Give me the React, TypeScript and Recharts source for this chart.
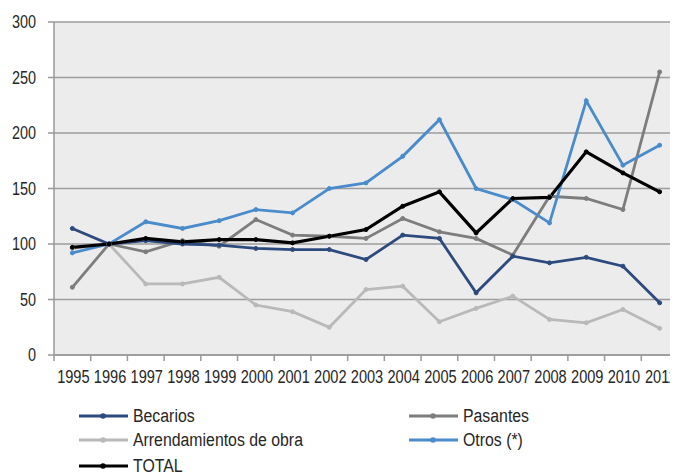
import React from "react";
import { LineChart, Line, XAxis, YAxis, CartesianGrid } from "recharts";

const years = [1995, 1996, 1997, 1998, 1999, 2000, 2001, 2002, 2003, 2004, 2005, 2006, 2007, 2008, 2009, 2010, 2011];
const becarios = [114, 100, 103, 100, 99, 96, 95, 95, 86, 108, 105, 56, 89, 83, 88, 80, 47];
const pasantes = [61, 100, 93, 103, 98, 122, 108, 107, 105, 123, 111, 105, 90, 143, 141, 131, 255];
const arrendamientos = [96, 100, 64, 64, 70, 45, 39, 25, 59, 62, 30, 42, 53, 32, 29, 41, 24];
const otros = [92, 100, 120, 114, 121, 131, 128, 150, 155, 179, 212, 150, 140, 119, 229, 171, 189];
const total = [97, 100, 105, 102, 104, 104, 101, 107, 113, 134, 147, 110, 141, 142, 183, 164, 147];
const yTicks = [0, 50, 100, 150, 200, 250, 300];

const data = years.map((y, i) => ({
  year: y,
  becarios: becarios[i],
  pasantes: pasantes[i],
  arrendamientos: arrendamientos[i],
  otros: otros[i],
  total: total[i],
}));

const FONT = "'Liberation Sans', Arial, sans-serif";
const W = 670;
const H = 466;
const M = { top: 14, right: 0, left: 0, bottom: 89 };
const Y_W = 46;
const PLOT_W = W - Y_W - M.right;
const STEP = PLOT_W / years.length;
const AXIS_Y = M.top + 333;
const TXT = "#262626";

const series = [
  { key: "arrendamientos", name: "Arrendamientos de obra", color: "#b9b9b9", w: 2.8 },
  { key: "pasantes", name: "Pasantes", color: "#7d7d7d", w: 2.8 },
  { key: "becarios", name: "Becarios", color: "#2d4a7e", w: 2.8 },
  { key: "otros", name: "Otros (*)", color: "#4a8ccb", w: 2.8 },
  { key: "total", name: "TOTAL", color: "#000000", w: 3.2 },
];

const legendLayout = [
  { key: "becarios", x: 70, y: 408 },
  { key: "pasantes", x: 400, y: 408 },
  { key: "arrendamientos", x: 70, y: 432 },
  { key: "otros", x: 400, y: 432 },
  { key: "total", x: 70, y: 458 },
];

const XTick = (props: any) => {
  const { x, payload } = props;
  return (
    <g>
      <line x1={x - STEP / 2} x2={x - STEP / 2} y1={AXIS_Y} y2={AXIS_Y + 6} stroke="#999" strokeWidth={1.5} />
      <text
        transform={`translate(${x + 1}, ${AXIS_Y + 28}) scale(0.81, 1)`}
        x={0}
        y={0}
        textAnchor="middle"
        fontSize={18}
        fill={TXT}
        fontFamily={FONT}
      >
        {payload.value}
      </text>
    </g>
  );
};

const YTick = (props: any) => {
  const { x, y, payload } = props;
  return (
    <text
      transform={`translate(${x}, ${y}) scale(0.78, 1)`}
      x={0}
      y={0}
      dy="0.35em"
      textAnchor="end"
      fontSize={18.5}
      fill={TXT}
      fontFamily={FONT}
    >
      {payload.value}
    </text>
  );
};

const ChartLegend = () => (
  <div style={{ position: "absolute", left: 0, top: 0, width: W, height: H, pointerEvents: "none" }}>
    {legendLayout.map((l) => {
      const s = series.find((q) => q.key === l.key)!;
      return (
        <div key={l.key} style={{ position: "absolute", left: l.x, top: l.y - 10, height: 20, display: "flex", alignItems: "center" }}>
          <svg width={52} height={20} style={{ display: "block" }}>
            <line x1={1} x2={50} y1={10} y2={10} stroke={s.color} strokeWidth={3} />
            <circle cx={25} cy={10} r={2.8} fill={s.color} />
          </svg>
          <span
            style={{
              fontFamily: FONT,
              fontSize: 18,
              color: TXT,
              marginLeft: 3,
              whiteSpace: "nowrap",
              display: "inline-block",
              transform: "scaleX(0.88)",
              transformOrigin: "left center",
            }}
          >
            {s.name}
          </span>
        </div>
      );
    })}
  </div>
);

export default function App() {
  return (
    <div style={{ position: "relative", width: W, height: H }}>
      <LineChart width={W} height={H} data={data} margin={M}>
        <CartesianGrid horizontal vertical={false} fill="#ececec" stroke="#9d9d9d" strokeWidth={1.5} />
        <XAxis
          dataKey="year"
          type="number"
          domain={[years[0] - 0.5, years[years.length - 1] + 0.5]}
          ticks={years}
          allowDataOverflow
          interval={0}
          tickLine={false}
          axisLine={{ stroke: "#999", strokeWidth: 1.5 }}
          tick={<XTick />}
          height={30}
        />
        <YAxis
          width={Y_W}
          domain={[0, 300]}
          ticks={yTicks}
          interval={0}
          tickSize={6}
          tickMargin={12}
          axisLine={{ stroke: "#999", strokeWidth: 1.5 }}
          tickLine={{ stroke: "#999", strokeWidth: 1.5 }}
          tick={<YTick />}
        />
        {series.map((s) => (
          <Line
            key={s.key}
            dataKey={s.key}
            name={s.name}
            stroke={s.color}
            strokeWidth={s.w}
            dot={{ r: 2, fill: s.color, stroke: s.color, strokeWidth: 1 }}
            isAnimationActive={false}
            type="linear"
          />
        ))}
      </LineChart>
      <ChartLegend />
    </div>
  );
}
